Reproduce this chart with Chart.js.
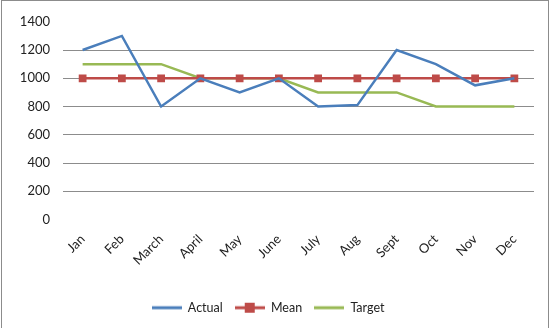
<!DOCTYPE html>
<html>
<head>
<meta charset="utf-8">
<script src="https://cdn.jsdelivr.net/npm/chart.js@4/dist/chart.umd.min.js"></script>
<style>
  html, body { margin: 0; padding: 0; background: #fff; }
  #wrap {
    position: relative;
    width: 548px; height: 328px;
    margin-left: 1px;
    border-left: 1px solid #8c8c8c;
    border-right: 1px solid #8c8c8c;
    border-top: 1px solid #8c8c8c;
    box-sizing: border-box;
  }
  canvas { display: block; }
</style>
</head>
<body>
<div id="wrap"><canvas id="chart" width="546" height="327"></canvas></div>
<script>
const months = ["Jan", "Feb", "March", "April", "May", "June", "July", "Aug", "Sept", "Oct", "Nov", "Dec"];
const actual = [1200, 1300, 800, 1000, 900, 1000, 800, 810, 1200, 1100, 950, 1000];
const mean = [1000, 1000, 1000, 1000, 1000, 1000, 1000, 1000, 1000, 1000, 1000, 1000];
const target = [1100, 1100, 1100, 1000, 1000, 1000, 900, 900, 900, 800, 800, 800];
const yTicks = [0, 200, 400, 600, 800, 1000, 1200, 1400];

const BLUE = "#4a7ebb";
const RED = "#be4b48";
const GREEN = "#98b954";
const FONT = "Lato, 'Open Sans', sans-serif";

// small legend icons (line, or line with a square on it)
function legendIcon(color, withSquare) {
  const c = document.createElement("canvas");
  c.width = 30; c.height = 12;
  const g = c.getContext("2d");
  g.strokeStyle = color;
  g.lineWidth = 3;
  g.beginPath();
  g.moveTo(0, 6);
  g.lineTo(30, 6);
  g.stroke();
  if (withSquare) {
    g.fillStyle = color;
    g.fillRect(10, 1, 10, 10);
  }
  return c;
}

const icons = [legendIcon(BLUE, false), legendIcon(RED, true), legendIcon(GREEN, false)];

new Chart(document.getElementById("chart"), {
  type: "line",
  data: {
    labels: months,
    datasets: [
      {
        label: "Actual",
        data: actual,
        borderColor: BLUE,
        borderWidth: 2.5,
        pointRadius: 0,
        tension: 0
      },
      {
        label: "Mean",
        data: mean,
        borderColor: RED,
        backgroundColor: RED,
        borderWidth: 2.5,
        pointStyle: "rect",
        pointRadius: 5.5,
        pointBorderWidth: 0,
        tension: 0
      },
      {
        label: "Target",
        data: target,
        borderColor: GREEN,
        borderWidth: 2.5,
        pointRadius: 0,
        tension: 0
      }
    ]
  },
  options: {
    responsive: false,
    animation: false,
    layout: { padding: { top: 16, right: 14, bottom: 4, left: 0 } },
    scales: {
      x: {
        offset: true,
        grid: { display: false, drawTicks: false },
        border: { display: false },
        ticks: {
          minRotation: 45,
          maxRotation: 45,
          padding: 12,
          color: "#222",
          font: { family: FONT, size: 13 }
        },
        afterFit: s => { s.height = 70; }
      },
      y: {
        min: 0,
        max: 1400,
        afterBuildTicks: s => { s.ticks = yTicks.map(v => ({ value: v })); },
        grid: {
          color: ctx => (ctx.tick.value === 0 || ctx.tick.value === 1400) ? "rgba(0,0,0,0)" : "#8c8c8c",
          drawTicks: false
        },
        border: { display: false },
        ticks: {
          padding: 13,
          color: "#222",
          font: { family: FONT, size: 13 },
          callback: v => String(v)
        },
        afterFit: s => { s.width = 61; }
      }
    },
    plugins: {
      legend: {
        position: "bottom",
        labels: {
          usePointStyle: true,
          pointStyleWidth: 30,
          boxHeight: 12,
          padding: 12,
          color: "#222",
          font: { family: FONT, size: 12.5 },
          generateLabels: chart => chart.data.datasets.map((ds, i) => ({
            text: ds.label,
            pointStyle: icons[i],
            fontColor: "#222",
            strokeStyle: ds.borderColor,
            fillStyle: ds.borderColor,
            lineWidth: 0,
            datasetIndex: i,
            hidden: false
          }))
        }
      },
      tooltip: { enabled: false }
    }
  }
});
</script>
</body>
</html>
